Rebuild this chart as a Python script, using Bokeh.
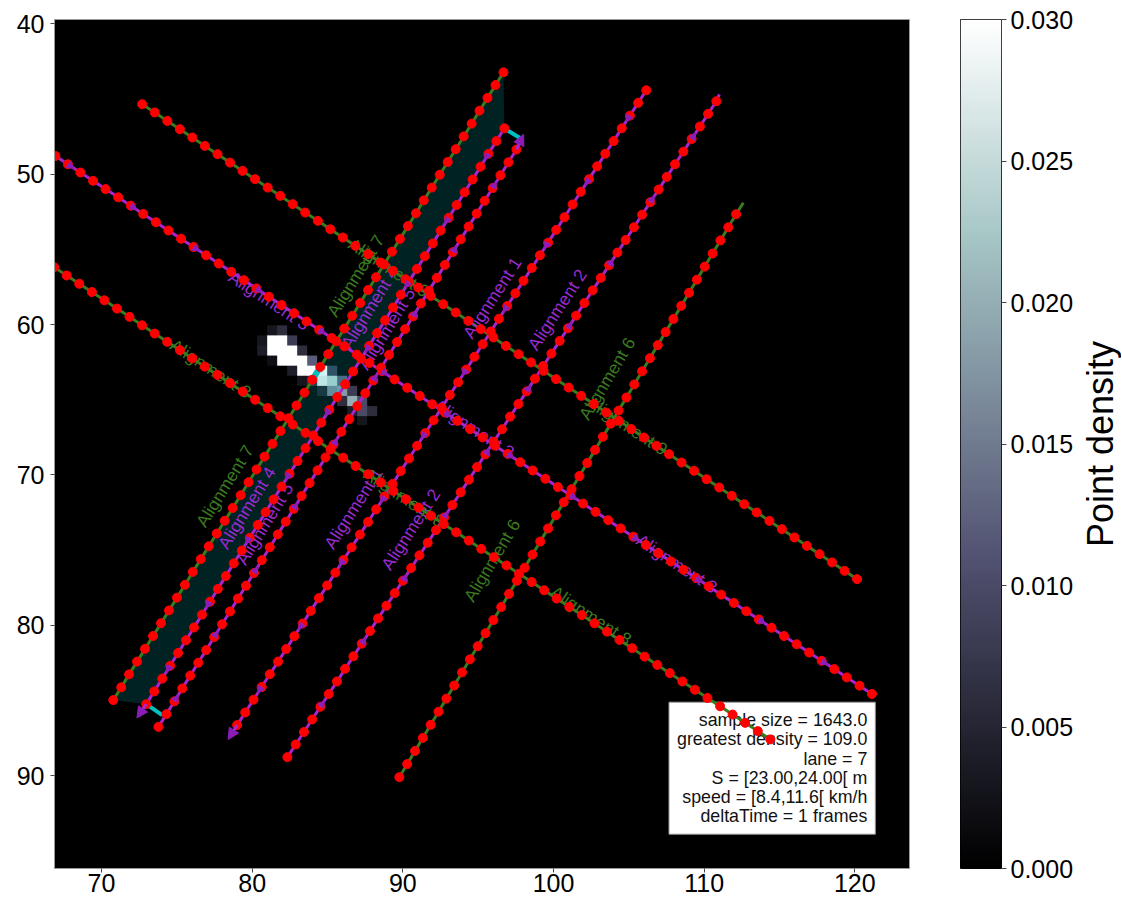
import numpy as np
from bokeh.plotting import figure
from bokeh.layouts import row
from bokeh.models import (Range1d, FixedTicker, PrintfTickFormatter, LinearColorMapper,
                          Arrow, NormalHead, Label, ColumnDataSource)
from bokeh.embed import file_html
from bokeh.resources import INLINE
from bokeh.core.properties import value

FONT = "Liberation Sans"

# ---------------- data: alignment points (red dots) ----------------
a7_x = [96.68, 96.15, 95.62, 95.09, 94.57, 94.04, 93.51, 92.98, 92.45, 91.92, 91.39, 90.87, 90.34, 89.81, 89.28,
        88.75, 88.22, 87.69, 87.17, 86.64, 86.11, 85.58, 85.05, 84.52, 83.99, 83.47, 82.94, 82.41, 81.88, 81.35,
        80.82, 80.29, 79.76, 79.24, 78.71, 78.18, 77.65, 77.12, 76.59, 76.06, 75.54, 75.01, 74.48, 73.95, 73.42,
        72.89, 72.36, 71.83, 71.31, 70.78]
a7_y = [43.24, 44.09, 44.94, 45.79, 46.65, 47.50, 48.35, 49.20, 50.05, 50.90, 51.75, 52.61, 53.46, 54.31, 55.16,
        56.01, 56.86, 57.71, 58.57, 59.42, 60.27, 61.12, 61.97, 62.82, 63.67, 64.53, 65.38, 66.23, 67.08, 67.93,
        68.78, 69.63, 70.48, 71.34, 72.19, 73.04, 73.89, 74.74, 75.59, 76.44, 77.30, 78.15, 79.00, 79.85, 80.70,
        81.55, 82.40, 83.25, 84.11, 84.96]

a4_x = [96.74, 96.21, 95.68, 95.16, 94.63, 94.10, 93.57, 93.04, 92.51, 91.99, 91.46, 90.93, 90.40, 89.87, 89.35,
        88.82, 88.29, 87.76, 87.23, 86.70, 86.18, 85.65, 85.12, 84.59, 84.06, 83.54, 83.01, 82.48, 81.95, 81.42,
        80.89, 80.37, 79.84, 79.31, 78.78, 78.25, 77.72, 77.20, 76.67, 76.14, 75.61, 75.08, 74.56, 74.03, 73.50,
        72.97]
a4_y = [46.96, 47.81, 48.66, 49.51, 50.36, 51.21, 52.06, 52.91, 53.76, 54.61, 55.46, 56.31, 57.16, 58.02, 58.87,
        59.72, 60.57, 61.42, 62.27, 63.12, 63.97, 64.82, 65.67, 66.52, 67.37, 68.22, 69.07, 69.92, 70.77, 71.62,
        72.47, 73.32, 74.17, 75.02, 75.87, 76.72, 77.57, 78.42, 79.28, 80.13, 80.98, 81.83, 82.68, 83.53, 84.38,
        85.23]

a5_x = [97.54, 97.01, 96.48, 95.96, 95.43, 94.90, 94.37, 93.84, 93.32, 92.79, 92.26, 91.73, 91.20, 90.68, 90.15,
        89.62, 89.09, 88.56, 88.04, 87.51, 86.98, 86.45, 85.92, 85.40, 84.87, 84.34, 83.81, 83.28, 82.76, 82.23,
        81.70, 81.17, 80.64, 80.12, 79.59, 79.06, 78.53, 78.00, 77.48, 76.95, 76.42, 75.89, 75.36, 74.84, 74.31,
        73.78]
a5_y = [48.37, 49.22, 50.08, 50.93, 51.78, 52.63, 53.49, 54.34, 55.19, 56.04, 56.90, 57.75, 58.60, 59.46, 60.31,
        61.16, 62.01, 62.87, 63.72, 64.57, 65.42, 66.28, 67.13, 67.98, 68.83, 69.69, 70.54, 71.39, 72.25, 73.10,
        73.95, 74.80, 75.66, 76.51, 77.36, 78.21, 79.07, 79.92, 80.77, 81.63, 82.48, 83.33, 84.18, 85.04, 85.89,
        86.74]

a1_x = [106.16, 105.62, 105.07, 104.53, 103.99, 103.44, 102.90, 102.36, 101.81, 101.27, 100.73, 100.18, 99.64,
        99.10, 98.56, 98.01, 97.47, 96.93, 96.38, 95.84, 95.30, 94.75, 94.21, 93.67, 93.12, 92.58, 92.04, 91.49,
        90.95, 90.41, 89.86, 89.32, 88.78, 88.23, 87.69, 87.15, 86.60, 86.06, 85.52, 84.98, 84.43, 83.89, 83.35,
        82.80, 82.26, 81.72, 81.17, 80.63, 80.09, 79.54, 79.00]
a1_y = [44.43, 45.27, 46.12, 46.96, 47.81, 48.65, 49.49, 50.34, 51.18, 52.02, 52.87, 53.71, 54.56, 55.40, 56.24,
        57.09, 57.93, 58.77, 59.62, 60.46, 61.31, 62.15, 62.99, 63.84, 64.68, 65.53, 66.37, 67.21, 68.06, 68.90,
        69.74, 70.59, 71.43, 72.28, 73.12, 73.96, 74.81, 75.65, 76.49, 77.34, 78.18, 79.03, 79.87, 80.71, 81.56,
        82.40, 83.24, 84.09, 84.93, 85.78, 86.62]

a2_x = [110.81, 110.26, 109.72, 109.17, 108.62, 108.07, 107.52, 106.98, 106.43, 105.88, 105.34, 104.79, 104.24,
        103.69, 103.14, 102.60, 102.05, 101.50, 100.96, 100.41, 99.86, 99.31, 98.77, 98.22, 97.67, 97.12, 96.58,
        96.03, 95.48, 94.93, 94.39, 93.84, 93.29, 92.74, 92.20, 91.65, 91.10, 90.55, 90.01, 89.46, 88.91, 88.36,
        87.82, 87.27, 86.72, 86.17, 85.63, 85.08, 84.53, 83.98, 83.44, 82.89, 82.34]
a2_y = [45.16, 46.00, 46.84, 47.67, 48.51, 49.35, 50.19, 51.03, 51.87, 52.70, 53.54, 54.38, 55.22, 56.06, 56.90,
        57.73, 58.57, 59.41, 60.25, 61.09, 61.93, 62.76, 63.60, 64.44, 65.28, 66.12, 66.96, 67.79, 68.63, 69.47,
        70.31, 71.15, 71.99, 72.82, 73.66, 74.50, 75.34, 76.18, 77.02, 77.85, 78.69, 79.53, 80.37, 81.21, 82.05,
        82.88, 83.72, 84.56, 85.40, 86.24, 87.08, 87.91, 88.75]

a6_x = [112.12, 111.60, 111.08, 110.56, 110.04, 109.52, 109.00, 108.48, 107.96, 107.44, 106.92, 106.40, 105.88,
        105.36, 104.84, 104.32, 103.80, 103.28, 102.76, 102.24, 101.72, 101.20, 100.68, 100.16, 99.64, 99.12, 98.61,
        98.09, 97.57, 97.05, 96.53, 96.01, 95.49, 94.97, 94.45, 93.93, 93.41, 92.89, 92.37, 91.85, 91.33, 90.81,
        90.29, 89.77]
a6_y = [52.67, 53.54, 54.41, 55.28, 56.15, 57.02, 57.89, 58.76, 59.63, 60.50, 61.37, 62.24, 63.11, 63.98, 64.85,
        65.72, 66.59, 67.46, 68.33, 69.20, 70.07, 70.94, 71.81, 72.68, 73.55, 74.42, 75.29, 76.16, 77.03, 77.90,
        78.77, 79.64, 80.51, 81.38, 82.25, 83.12, 83.99, 84.86, 85.73, 86.60, 87.47, 88.34, 89.21, 90.08]

a3_x = [66.10, 66.94, 67.77, 68.60, 69.44, 70.27, 71.11, 71.94, 72.77, 73.61, 74.44, 75.28, 76.11, 76.94, 77.78,
        78.61, 79.45, 80.28, 81.11, 81.95, 82.78, 83.61, 84.45, 85.28, 86.12, 86.95, 87.78, 88.62, 89.45, 90.29,
        91.12, 91.95, 92.79, 93.62, 94.46, 95.29, 96.12, 96.96, 97.79, 98.62, 99.46, 100.29, 101.13, 101.96, 102.79,
        103.63, 104.46, 105.30, 106.13, 106.96, 107.80, 108.63, 109.47, 110.30, 111.13, 111.97, 112.80, 113.63,
        114.47, 115.30, 116.14, 116.97, 117.80, 118.64, 119.47, 120.31, 121.14]
a3_y = [48.25, 48.80, 49.35, 49.90, 50.45, 51.00, 51.55, 52.10, 52.65, 53.20, 53.75, 54.30, 54.85, 55.40, 55.95,
        56.50, 57.05, 57.60, 58.15, 58.70, 59.25, 59.80, 60.35, 60.90, 61.45, 62.00, 62.55, 63.10, 63.65, 64.20,
        64.75, 65.30, 65.85, 66.40, 66.95, 67.50, 68.05, 68.60, 69.15, 69.70, 70.25, 70.80, 71.35, 71.90, 72.45,
        73.00, 73.55, 74.10, 74.65, 75.20, 75.75, 76.30, 76.85, 77.40, 77.95, 78.50, 79.05, 79.60, 80.15, 80.70,
        81.25, 81.80, 82.35, 82.90, 83.45, 84.00, 84.55]

a8_x = [66.02, 66.86, 67.69, 68.52, 69.36, 70.19, 71.03, 71.86, 72.69, 73.53, 74.36, 75.20, 76.03, 76.86, 77.70,
        78.53, 79.37, 80.20, 81.03, 81.87, 82.70, 83.54, 84.37, 85.20, 86.04, 86.87, 87.70, 88.54, 89.37, 90.21,
        91.04, 91.87, 92.71, 93.54, 94.38, 95.21, 96.04, 96.88, 97.71, 98.55, 99.38, 100.21, 101.05, 101.88, 102.72,
        103.55, 104.38, 105.22, 106.05, 106.89, 107.72, 108.55, 109.39, 110.22, 111.06, 111.89, 112.72, 113.56,
        114.39]
a8_y = [55.64, 56.19, 56.74, 57.29, 57.84, 58.39, 58.94, 59.49, 60.05, 60.60, 61.15, 61.70, 62.25, 62.80, 63.35,
        63.90, 64.45, 65.00, 65.55, 66.10, 66.65, 67.20, 67.75, 68.30, 68.85, 69.40, 69.95, 70.50, 71.06, 71.61,
        72.16, 72.71, 73.26, 73.81, 74.36, 74.91, 75.46, 76.01, 76.56, 77.11, 77.66, 78.21, 78.76, 79.31, 79.86,
        80.41, 80.96, 81.51, 82.07, 82.62, 83.17, 83.72, 84.27, 84.82, 85.37, 85.92, 86.47, 87.02, 87.57]

a9_x = [72.70, 73.53, 74.37, 75.20, 76.03, 76.86, 77.70, 78.53, 79.36, 80.19, 81.03, 81.86, 82.69, 83.52, 84.36,
        85.19, 86.02, 86.85, 87.69, 88.52, 89.35, 90.18, 91.02, 91.85, 92.68, 93.51, 94.35, 95.18, 96.01, 96.84,
        97.68, 98.51, 99.34, 100.17, 101.01, 101.84, 102.67, 103.50, 104.34, 105.17, 106.00, 106.83, 107.67,
        108.50, 109.33, 110.16, 111.00, 111.83, 112.66, 113.49, 114.33, 115.16, 115.99, 116.82, 117.66, 118.49,
        119.32, 120.15]
a9_y = [45.36, 45.91, 46.47, 47.02, 47.57, 48.13, 48.68, 49.24, 49.79, 50.34, 50.90, 51.45, 52.00, 52.56, 53.11,
        53.67, 54.22, 54.77, 55.33, 55.88, 56.43, 56.99, 57.54, 58.10, 58.65, 59.20, 59.76, 60.31, 60.86, 61.42,
        61.97, 62.52, 63.08, 63.63, 64.19, 64.74, 65.29, 65.85, 66.40, 66.95, 67.51, 68.06, 68.62, 69.17, 69.72,
        70.28, 70.83, 71.38, 71.94, 72.49, 73.05, 73.60, 74.15, 74.71, 75.26, 75.81, 76.37, 76.92]

# alignment polyline ends that reach beyond the last dot
a2_line_end = (111.01, 44.70)
a6_line_end = (112.60, 51.91)

# travel direction of the violet alignments: +1 = in list order, -1 = reverse
travel = {"4": 1, "1": 1, "5": -1, "2": -1, "3": 1}

# direction arrow tips of the violet alignments (at their final point)
arrow_names = ["4", "1", "5"]
arrow_tip_x = [72.35, 78.41, 98.02]
arrow_tip_y = [86.15, 87.58, 47.36]

# lane connectors (start point on alignment 4, end point near alignment 5)
conn_x0 = [96.74, 72.97]
conn_y0 = [46.96, 85.23]
conn_x1 = [97.80, 74.03]
conn_y1 = [47.62, 85.96]

# S interval [23, 24[ on lane 7 -> alignment 7 point indices
s_first, s_last = 23, 24

# alignment labels
label_text = ["Alignment 7", "Alignment 4", "Alignment 5", "Alignment 1", "Alignment 2", "Alignment 6",
              "Alignment 7", "Alignment 4", "Alignment 5", "Alignment 1", "Alignment 2", "Alignment 6",
              "Alignment 3", "Alignment 3", "Alignment 3", "Alignment 8", "Alignment 8", "Alignment 8",
              "Alignment 9", "Alignment 9"]
label_x = [85.26, 86.19, 87.32, 94.27, 98.58, 101.98, 76.57, 78.03, 79.22, 85.06, 88.85, 94.35,
           78.56, 92.16, 105.63, 74.69, 87.52, 99.93, 86.52, 102.32]
label_y = [59.38, 61.50, 62.90, 60.82, 61.59, 66.23, 73.34, 74.80, 75.86, 74.80, 76.19, 78.32,
           56.72, 65.23, 74.20, 61.24, 69.81, 77.65, 54.53, 65.03]
label_angle = [58.2, 58.2, 58.2, 57.2, 56.9, 59.1, 58.2, 58.2, 58.2, 57.2, 56.9, 59.1,
               -33.4, -33.4, -33.4, -33.4, -33.4, -33.4, -33.4, -33.4]

# point density grid (rows go down in y)
heat_x0, heat_y0, heat_cell = 80.33, 60.05, 0.664
heat = [
    [0.000, 0.003, 0.006, 0.000, 0.000, 0.000, 0.000, 0.000, 0.000, 0.000, 0.000, 0.000],
    [0.003, 0.031, 0.031, 0.008, 0.000, 0.000, 0.000, 0.000, 0.000, 0.000, 0.000, 0.000],
    [0.004, 0.031, 0.031, 0.031, 0.006, 0.000, 0.000, 0.000, 0.000, 0.000, 0.000, 0.000],
    [0.000, 0.002, 0.031, 0.031, 0.031, 0.012, 0.000, 0.000, 0.000, 0.000, 0.000, 0.000],
    [0.000, 0.000, 0.000, 0.004, 0.031, 0.031, 0.031, 0.008, 0.000, 0.000, 0.000, 0.000],
    [0.000, 0.000, 0.000, 0.000, 0.003, 0.006, 0.028, 0.024, 0.012, 0.000, 0.000, 0.000],
    [0.000, 0.000, 0.000, 0.000, 0.000, 0.000, 0.004, 0.016, 0.018, 0.008, 0.000, 0.000],
    [0.000, 0.000, 0.000, 0.000, 0.000, 0.000, 0.000, 0.000, 0.006, 0.020, 0.010, 0.000],
    [0.000, 0.000, 0.000, 0.000, 0.000, 0.000, 0.000, 0.000, 0.000, 0.004, 0.010, 0.006],
    [0.000, 0.000, 0.000, 0.000, 0.000, 0.000, 0.000, 0.000, 0.000, 0.000, 0.003, 0.000],
]

info_lines = ["sample size = 1643.0", "greatest density = 109.0", "lane = 7",
              "S = [23.00,24.00[ m", "speed = [8.4,11.6[ km/h", "deltaTime = 1 frames"]
info_anchor = (121.36, 93.87)

x_ticks = [70, 80, 90, 100, 110, 120]
y_ticks = [40, 50, 60, 70, 80, 90]
cbar_ticks = [0.0, 0.005, 0.010, 0.015, 0.020, 0.025, 0.030]
cbar_low, cbar_high = 0.0, 0.03
cbar_title = "Point density"

# ---------------- styles ----------------
GREEN = "#3b7a1f"
VIOLET = "#a824cc"
VIOLET_DARK = "#8a1cb8"
VIOLET_TXT = "#9a2bd0"
RED = "#ff0000"
CYAN = "#00bfbf"
TOP, BOTTOM, FRAME_H = 19, 34, 849


def bone(n=256):
    t = np.linspace(0, 1, n)
    r = np.interp(t, [0, 0.746032, 1], [0, 0.652778, 1])
    g = np.interp(t, [0, 0.365079, 0.746032, 1], [0, 0.319444, 0.777778, 1])
    b = np.interp(t, [0, 0.365079, 1], [0, 0.444444, 1])
    return ["#%02x%02x%02x" % (int(round(255 * a)), int(round(255 * c)), int(round(255 * d)))
            for a, c, d in zip(r, g, b)]


mapper = LinearColorMapper(palette=bone(), low=cbar_low, high=cbar_high)

p = figure(frame_width=855, frame_height=FRAME_H,
           x_range=Range1d(66.88, 123.63), y_range=Range1d(96.15, 39.73),
           toolbar_location=None, output_backend="svg",
           min_border_left=54, min_border_right=28, min_border_top=TOP, min_border_bottom=BOTTOM)
p.background_fill_color = "black"
p.border_fill_color = "white"
p.grid.visible = False
p.outline_line_color = "#999999"

# density image
heat_arr = np.array(heat)
p.image(image=[heat_arr], x=heat_x0, y=heat_y0,
        dw=heat_cell * heat_arr.shape[1], dh=heat_cell * heat_arr.shape[0], color_mapper=mapper)

# lane 7 area (between alignments 7 and 4)
p.patch(a7_x + a4_x[::-1], a7_y + a4_y[::-1], fill_color=CYAN, fill_alpha=0.18, line_alpha=0)

alignments = {
    "7": (a7_x, a7_y, GREEN), "4": (a4_x, a4_y, VIOLET), "5": (a5_x, a5_y, VIOLET),
    "1": (a1_x, a1_y, VIOLET), "2": (a2_x, a2_y, VIOLET), "6": (a6_x, a6_y, GREEN),
    "3": (a3_x, a3_y, VIOLET), "8": (a8_x, a8_y, GREEN), "9": (a9_x, a9_y, GREEN),
}
extra_start = {"2": a2_line_end, "6": a6_line_end}

for name, (xs, ys, col) in alignments.items():
    lx, ly = list(xs), list(ys)
    if name in extra_start:
        lx = [extra_start[name][0]] + lx
        ly = [extra_start[name][1]] + ly
    p.line(lx, ly, line_color=col, line_width=3)

# small direction marks along the violet alignments (every 5th segment)
mx0, my0, mx1, my1 = [], [], [], []
for nm, d in travel.items():
    xs, ys, _ = alignments[nm]
    for k in range(2, len(xs) - 1, 5):
        a, b = (k, k + 1) if d > 0 else (k + 1, k)
        mx0.append(xs[a]); my0.append(ys[a])
        mx1.append((xs[a] + xs[b]) / 2); my1.append((ys[a] + ys[b]) / 2)
p.add_layout(Arrow(end=NormalHead(size=7, fill_color=VIOLET_DARK, line_color=VIOLET_DARK),
                   source=ColumnDataSource(dict(x0=mx0, y0=my0, x1=mx1, y1=my1)),
                   x_start="x0", y_start="y0", x_end="x1", y_end="y1",
                   line_color=VIOLET, line_width=3, level="glyph"))

# connectors and S interval
p.segment(x0=conn_x0, y0=conn_y0, x1=conn_x1, y1=conn_y1, line_color=CYAN, line_width=4)
p.line(a7_x[s_first:s_last + 1], a7_y[s_first:s_last + 1], line_color=CYAN, line_width=6, line_cap="round")

# end arrows
for nm, tx, ty in zip(arrow_names, arrow_tip_x, arrow_tip_y):
    xs, ys, col = alignments[nm]
    sx, sy = (xs[-1], ys[-1]) if travel[nm] > 0 else (xs[0], ys[0])
    p.add_layout(Arrow(end=NormalHead(size=11, fill_color=VIOLET_DARK, line_color=VIOLET_DARK),
                       x_start=sx, y_start=sy, x_end=tx, y_end=ty,
                       line_color=VIOLET, line_width=3))

# labels
lab_colors = [GREEN if t[-1] in "7689" else VIOLET_TXT for t in label_text]
lsrc = ColumnDataSource(dict(x=label_x, y=label_y, text=label_text,
                             angle=[np.deg2rad(a) for a in label_angle], color=lab_colors))
p.text(x="x", y="y", text="text", angle="angle", text_color="color", source=lsrc,
       text_font=value(FONT), text_font_size="17.5px", text_align="left", text_baseline="alphabetic")

# red dots
for name, (xs, ys, col) in alignments.items():
    p.scatter(xs, ys, size=9, fill_color=RED, line_color=RED)

# info box
p.add_layout(Label(x=info_anchor[0], y=info_anchor[1], text="\n".join(info_lines),
                   text_align="right", text_baseline="bottom", text_font=FONT,
                   text_font_size="17.8px", text_line_height=0.96, text_color="#111111",
                   background_fill_color="white", border_line_color="#999999",
                   padding=8, level="underlay"))

p.xaxis.ticker = FixedTicker(ticks=x_ticks)
p.yaxis.ticker = FixedTicker(ticks=y_ticks)
for ax in (p.xaxis[0], p.yaxis[0]):
    ax.major_label_text_font = FONT
    ax.major_label_text_font_size = "25px"
    ax.major_label_text_color = "black"
    ax.axis_line_color = "#999999"
    ax.major_tick_line_color = "#444444"
    ax.major_tick_out = 4
    ax.major_tick_in = 0
    ax.minor_tick_line_color = None
p.xaxis.major_label_standoff = 1
p.yaxis.major_label_standoff = 6

# ---------------- colorbar ----------------
p2 = figure(frame_width=41, frame_height=FRAME_H, x_range=Range1d(0, 1), y_range=Range1d(cbar_low, cbar_high),
            y_axis_location="right", toolbar_location=None, output_backend="svg",
            min_border_left=23, min_border_right=60, min_border_top=TOP, min_border_bottom=BOTTOM)
p2.xaxis.visible = False
p2.grid.visible = False
p2.outline_line_color = "black"
grad = np.linspace(cbar_low, cbar_high, 256).reshape(256, 1)
p2.image(image=[grad], x=0, y=cbar_low, dw=1, dh=cbar_high - cbar_low, color_mapper=mapper)
ya = p2.yaxis[0]
ya.ticker = FixedTicker(ticks=cbar_ticks)
ya.formatter = PrintfTickFormatter(format="%.3f")
ya.major_label_text_font = FONT
ya.major_label_text_font_size = "25px"
ya.major_label_text_color = "black"
ya.axis_line_color = None
ya.major_tick_line_color = "#444444"
ya.major_tick_out = 5
ya.major_tick_in = 0
ya.minor_tick_line_color = None
ya.major_label_standoff = 4

# colorbar title (reads bottom to top, like a left axis label)
p3 = figure(frame_width=1, frame_height=FRAME_H, x_range=Range1d(0, 1), y_range=Range1d(0, 1),
            toolbar_location=None, output_backend="svg",
            min_border_left=30, min_border_right=0, min_border_top=TOP, min_border_bottom=BOTTOM)
p3.xaxis.visible = False
p3.grid.visible = False
p3.outline_line_color = None
la = p3.yaxis[0]
la.axis_label = cbar_title
la.axis_label_text_font = FONT
la.axis_label_text_font_size = "36px"
la.axis_label_text_font_style = "normal"
la.axis_label_text_color = "black"
la.axis_label_standoff = 0
la.major_label_text_font_size = "0px"
la.major_label_standoff = 0
la.major_tick_line_color = None
la.minor_tick_line_color = None
la.major_tick_out = 0
la.axis_line_color = None
la.ticker = FixedTicker(ticks=[])

layout = row(p, p2, p3)
open("out.html", "w").write(file_html(layout, INLINE))
